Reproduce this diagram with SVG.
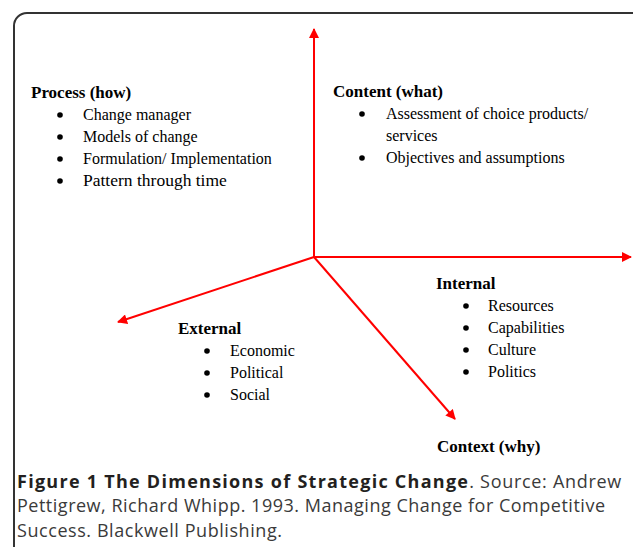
<svg xmlns="http://www.w3.org/2000/svg" width="633" height="547" viewBox="0 0 633 547">
<style>
.frame{fill:none;stroke:#333;stroke-width:2}
.ax{stroke:#f00;stroke-width:2;fill:none}
.h{font-family:"Liberation Serif","Times New Roman",serif;font-weight:bold;font-size:17px;fill:#000}
.t{font-family:"Liberation Serif","Times New Roman",serif;font-size:16px;fill:#000}
.b{fill:#000}
.cap{font-family:"Open Sans","Noto Sans",sans-serif;font-size:18px;fill:#3a3a3a}
.capb{font-weight:bold;fill:#231f20}
</style>
<defs>
<marker id="ah" viewBox="0 0 10 10" refX="9" refY="5" markerWidth="5.5" markerHeight="5" orient="auto" markerUnits="strokeWidth">
<path d="M0,0 L10,5 L0,10 Z" fill="#f00"/>
</marker>
</defs>
<rect class="frame" x="14" y="13" width="640" height="580" rx="13"/>
<g id="connectors">
<line class="ax" x1="314" y1="257" x2="314" y2="29" marker-end="url(#ah)"/>
<line class="ax" x1="314" y1="257" x2="631" y2="257" marker-end="url(#ah)"/>
<line class="ax" x1="314" y1="257" x2="118" y2="322" marker-end="url(#ah)"/>
<line class="ax" x1="314" y1="257" x2="455" y2="419" marker-end="url(#ah)"/>
</g>
<g id="process">
<text class="h" x="31" y="98">Process (how)</text>
<circle class="b" cx="60" cy="115" r="2.8"/><text class="t" x="83" y="120">Change manager</text>
<circle class="b" cx="60" cy="137" r="2.8"/><text class="t" x="83" y="142">Models of change</text>
<circle class="b" cx="60" cy="159" r="2.8"/><text class="t" x="83" y="164">Formulation/ Implementation</text>
<circle class="b" cx="60" cy="181" r="2.8"/><text class="t" x="83" y="186" style="font-size:17.5px">Pattern through time</text>
</g>
<g id="content">
<text class="h" x="333" y="97">Content (what)</text>
<circle class="b" cx="362" cy="114" r="2.8"/><text class="t" x="386" y="119">Assessment of choice products/</text>
<text class="t" x="386" y="141">services</text>
<circle class="b" cx="362" cy="158" r="2.8"/><text class="t" x="386" y="163">Objectives and assumptions</text>
</g>
<g id="internal">
<text class="h" x="436" y="289">Internal</text>
<circle class="b" cx="466" cy="306" r="2.8"/><text class="t" x="488" y="311">Resources</text>
<circle class="b" cx="466" cy="328" r="2.8"/><text class="t" x="488" y="333">Capabilities</text>
<circle class="b" cx="466" cy="350" r="2.8"/><text class="t" x="488" y="355">Culture</text>
<circle class="b" cx="466" cy="372" r="2.8"/><text class="t" x="488" y="377">Politics</text>
</g>
<g id="external">
<text class="h" x="178" y="334">External</text>
<circle class="b" cx="207" cy="351" r="2.8"/><text class="t" x="230" y="356">Economic</text>
<circle class="b" cx="207" cy="373" r="2.8"/><text class="t" x="230" y="378">Political</text>
<circle class="b" cx="207" cy="395" r="2.8"/><text class="t" x="230" y="400">Social</text>
</g>
<g id="context">
<text class="h" x="437" y="452">Context (why)</text>
</g>
<g id="caption">
<text class="cap" x="17" y="487.5"><tspan class="capb" textLength="451" lengthAdjust="spacing">Figure 1 The Dimensions of Strategic Change</tspan><tspan textLength="152" lengthAdjust="spacing">. Source: Andrew</tspan></text>
<text class="cap" x="17" y="512" textLength="588" lengthAdjust="spacing">Pettigrew, Richard Whipp. 1993. Managing Change for Competitive</text>
<text class="cap" x="17" y="536.5" textLength="265" lengthAdjust="spacing">Success. Blackwell Publishing.</text>
</g>
</svg>
